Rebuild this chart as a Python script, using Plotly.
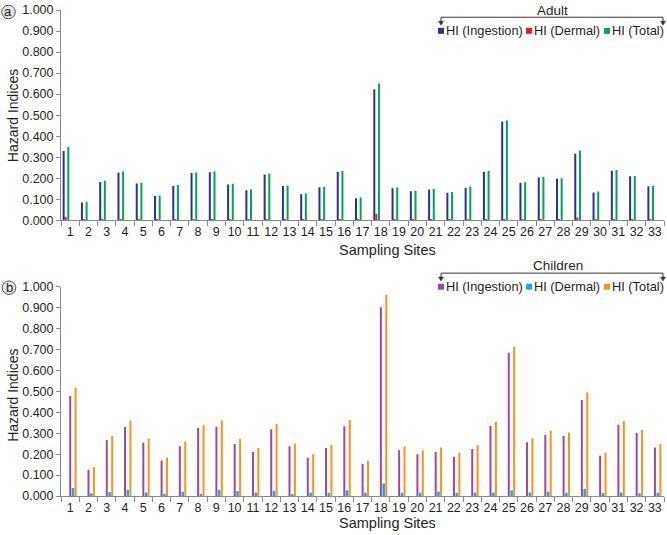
import plotly.graph_objects as go

sites = [str(i) for i in range(1, 34)]

adult_ingestion = [0.329, 0.085, 0.182, 0.227, 0.175, 0.115, 0.163, 0.225, 0.228, 0.170,
                   0.143, 0.218, 0.163, 0.124, 0.157, 0.229, 0.105, 0.623, 0.152, 0.138,
                   0.146, 0.131, 0.154, 0.231, 0.470, 0.178, 0.203, 0.198, 0.316, 0.132,
                   0.236, 0.209, 0.162]
adult_dermal = [0.017, 0.002, 0.003, 0.003, 0.002, 0.002, 0.003, 0.002, 0.003, 0.002,
                0.002, 0.003, 0.002, 0.002, 0.002, 0.003, 0.002, 0.031, 0.002, 0.002,
                0.002, 0.002, 0.002, 0.002, 0.003, 0.002, 0.002, 0.002, 0.013, 0.002,
                0.002, 0.002, 0.002]
adult_total = [0.348, 0.088, 0.188, 0.232, 0.178, 0.118, 0.168, 0.227, 0.232, 0.174,
               0.147, 0.222, 0.165, 0.127, 0.160, 0.234, 0.108, 0.651, 0.156, 0.140,
               0.149, 0.134, 0.159, 0.234, 0.475, 0.181, 0.206, 0.200, 0.332, 0.137,
               0.239, 0.211, 0.163]

child_ingestion = [0.478, 0.125, 0.267, 0.330, 0.254, 0.170, 0.238, 0.325, 0.331, 0.248,
                   0.210, 0.319, 0.238, 0.181, 0.229, 0.333, 0.153, 0.902, 0.219, 0.199,
                   0.210, 0.188, 0.224, 0.334, 0.685, 0.257, 0.292, 0.287, 0.459, 0.192,
                   0.341, 0.301, 0.232]
child_dermal = [0.038, 0.013, 0.019, 0.030, 0.017, 0.011, 0.020, 0.011, 0.030, 0.024,
                0.017, 0.025, 0.009, 0.017, 0.016, 0.028, 0.016, 0.060, 0.016, 0.017,
                0.021, 0.016, 0.017, 0.017, 0.028, 0.017, 0.021, 0.016, 0.033, 0.014,
                0.017, 0.013, 0.016]
child_total = [0.517, 0.139, 0.287, 0.361, 0.273, 0.183, 0.260, 0.338, 0.361, 0.274,
               0.229, 0.344, 0.251, 0.200, 0.244, 0.363, 0.169, 0.962, 0.237, 0.218,
               0.232, 0.207, 0.243, 0.355, 0.713, 0.276, 0.312, 0.304, 0.494, 0.207,
               0.358, 0.315, 0.248]

y_ticks = [round(0.1 * i, 1) for i in range(11)]
legend_names = ["HI (Ingestion)", "HI (Dermal)", "HI (Total)"]

adult_colors = ["#2E3192", "#ED1C24", "#00A651"]
child_colors = ["#A3479B", "#1CACE3", "#F7941D"]

W, H = 667, 535
ML, MR, MT, MB = 61, 3, 6, 39
PW, PH = W - ML - MR, H - MT - MB


def px(x):
    return (x - ML) / PW


def py(y):
    return (H - MB - y) / PH


FONT = "Arial, Liberation Sans, sans-serif"
AXC = "#8a8a8a"
TXT = "#231F20"

fig = go.Figure()

top_off = [(-0.41, 0.11), (-0.30, 0.11), (-0.155, 0.11)]
bot_off = [(-0.05, 0.11), (0.09, 0.14), (0.245, 0.11)]

for vals, name, col, (off, w) in zip([adult_ingestion, adult_dermal, adult_total],
                                      legend_names, adult_colors, top_off):
    fig.add_trace(go.Bar(x=sites, y=vals, name=name, marker=dict(color=col, line=dict(width=0)),
                         offset=off, width=w, xaxis="x", yaxis="y", showlegend=False))

for vals, name, col, (off, w) in zip([child_ingestion, child_dermal, child_total],
                                      legend_names, child_colors, bot_off):
    fig.add_trace(go.Bar(x=sites, y=vals, name=name, marker=dict(color=col, line=dict(width=0)),
                         offset=off, width=w, xaxis="x2", yaxis="y2", showlegend=False))

xax = dict(type="category", range=[-0.5, 32.5], showline=True, linecolor=AXC, linewidth=1,
           ticks="outside", tickson="boundaries", ticklen=5, tickcolor=AXC, tickangle=0,
           tickfont=dict(size=12.5, color=TXT, family=FONT), showgrid=False, zeroline=False)
yax = dict(range=[0, 1.0], tickvals=y_ticks, tickformat=".3f", showline=True, linecolor=AXC,
           linewidth=1, ticks="outside", ticklen=4, tickcolor=AXC,
           tickfont=dict(size=12.5, color=TXT, family=FONT), showgrid=False, zeroline=False)

fig.update_layout(
    width=W, height=H, margin=dict(l=ML, r=MR, t=MT, b=MB),
    paper_bgcolor="white", plot_bgcolor="white", barmode="overlay",
    font=dict(family=FONT, color=TXT),
    xaxis=dict(xax, anchor="y", domain=[0, 1]),
    yaxis=dict(yax, anchor="x", domain=[py(218), py(6)]),
    xaxis2=dict(xax, anchor="y2", domain=[0, 1]),
    yaxis2=dict(yax, anchor="x2", domain=[py(496), py(285)]),
)

shapes = []
annotations = []

# axis titles
for yy in (248, 523):
    annotations.append(dict(x=px(387), y=py(yy), xref="paper", yref="paper", text="Sampling Sites",
                            showarrow=False, font=dict(size=14.5, color=TXT, family=FONT),
                            xanchor="center", yanchor="middle"))
for yy in (113, 395):
    annotations.append(dict(x=px(13), y=py(yy), xref="paper", yref="paper", text="Hazard Indices",
                            showarrow=False, textangle=-90, font=dict(size=14, color=TXT, family=FONT),
                            xanchor="center", yanchor="middle"))

# custom legends
for dy, title, tcx, cols in [(0, "Adult", 552, adult_colors), (258, "Children", 558, child_colors)]:
    annotations.append(dict(x=px(tcx), y=py(6 + dy), xref="paper", yref="paper", text=title,
                            showarrow=False, font=dict(size=13.5, color=TXT, family=FONT),
                            xanchor="center", yanchor="middle"))
    by = 13.3 + dy
    shapes.append(dict(type="path", xref="paper", yref="paper",
                       path=f"M {px(441)} {py(by + 5)} L {px(441)} {py(by)} L {px(663)} {py(by)} L {px(663)} {py(by + 5)}",
                       line=dict(color="#333333", width=1)))
    for ax_ in (441, 663):
        shapes.append(dict(type="path", xref="paper", yref="paper",
                           path=f"M {px(ax_ - 2.5)} {py(by + 4)} L {px(ax_ + 2.5)} {py(by + 4)} L {px(ax_)} {py(by + 8)} Z",
                           fillcolor="#333333", line=dict(color="#333333", width=0.5)))
    ry = 27 + dy
    sq_x = [438, 526, 604]
    tx_x = [443.5, 531.5, 609.5]
    for c, sx, tx, nm in zip(cols, sq_x, tx_x, legend_names):
        shapes.append(dict(type="rect", xref="paper", yref="paper",
                           x0=px(sx), x1=px(sx + 6), y0=py(ry + 3), y1=py(ry - 3),
                           fillcolor=c, line=dict(width=0)))
        annotations.append(dict(x=px(tx), y=py(ry), xref="paper", yref="paper", text=nm,
                                showarrow=False, font=dict(size=12.8, color=TXT, family=FONT),
                                xanchor="left", yanchor="middle"))

# panel labels
for (cx, cy), lab in [((8.5, 8), "a"), ((9, 286), "b")]:
    shapes.append(dict(type="circle", xref="paper", yref="paper",
                       x0=px(cx - 6.8), x1=px(cx + 6.8), y0=py(cy + 6.8), y1=py(cy - 6.8),
                       fillcolor="#e4e4e4", line=dict(color="#555555", width=1)))
    annotations.append(dict(x=px(cx), y=py(cy), xref="paper", yref="paper", text=lab,
                            showarrow=False, font=dict(size=13, color=TXT, family=FONT),
                            xanchor="center", yanchor="middle"))

fig.update_layout(shapes=shapes, annotations=annotations)

fig.write_html("out.html", post_script="document.body.style.margin='0';",
               config={"displayModeBar": False})
